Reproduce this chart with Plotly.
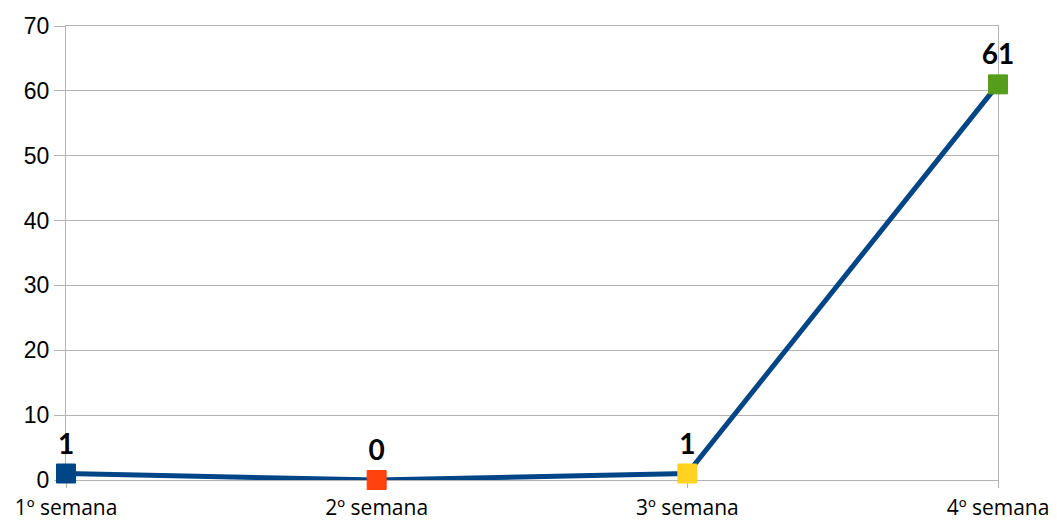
import plotly.graph_objects as go

categories = ["1º semana", "2º semana", "3º semana", "4º semana"]
values = [1, 0, 1, 61]
marker_colors = ["#004586", "#ff420e", "#ffd320", "#579d1c"]
y_ticks = [0, 10, 20, 30, 40, 50, 60, 70]

fig = go.Figure()
fig.add_trace(go.Scatter(
    x=categories,
    y=values,
    mode="lines+markers+text",
    line=dict(color="#004586", width=5),
    marker=dict(symbol="square", size=19, color=marker_colors,
                line=dict(width=1, color=marker_colors)),
    text=[str(v) for v in values],
    textposition="top center",
    textfont=dict(family="Lato", size=28, color="#000000", weight="bold"),
    cliponaxis=False,
    showlegend=False,
))

# page body has an 8px margin, so the figure starts at (8, 8)
fig.update_layout(
    width=1049, height=516,
    margin=dict(l=58, r=59, t=18, b=44, autoexpand=False),
    paper_bgcolor="white", plot_bgcolor="white",
    xaxis=dict(
        type="category", range=[0, 3], automargin=False,
        showgrid=False, showline=True, linecolor="#b3b3b3", linewidth=1,
        mirror=True, layer="below traces",
        ticks="outside", ticklen=7, tickcolor="#b3b3b3",
        ticklabelstandoff=2,
        tickfont=dict(family="Open Sans", size=21, color="#000000"),
        zeroline=False,
    ),
    yaxis=dict(
        range=[0, 70], tickvals=y_ticks, automargin=False,
        showgrid=True, gridcolor="#b3b3b3", gridwidth=1,
        showline=True, linecolor="#b3b3b3", linewidth=1, mirror=True,
        layer="below traces",
        ticks="outside", ticklen=11, tickcolor="#b3b3b3",
        tickfont=dict(family="Liberation Sans", size=23, color="#000000"),
        zeroline=False,
    ),
)

fig.write_html("out.html")
